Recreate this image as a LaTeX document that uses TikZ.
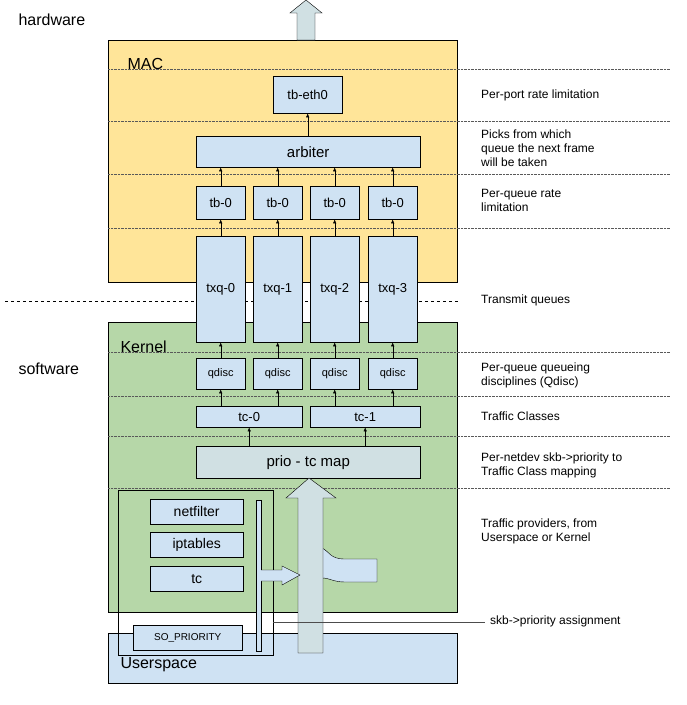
\documentclass[tikz,border=0pt]{standalone}
\usepackage{fontspec}
\setmainfont{Liberation Sans}
\usetikzlibrary{arrows.meta}
\definecolor{mac}{HTML}{FFE599}
\definecolor{kern}{HTML}{B6D7A8}
\definecolor{usr}{HTML}{CFE2F3}
\definecolor{big}{HTML}{D0E0E3}
\begin{document}
\begin{tikzpicture}[x=1pt,y=-1pt,
  bx/.style={draw,fill=usr,inner sep=0pt,anchor=north west},
  ar/.style={-{Latex[length=4pt,width=3.5pt]}},
  lab/.style={anchor=west,font=\fontsize{12}{14}\selectfont,align=left,inner sep=0pt},
  dot/.style={densely dotted,gray!70!black}]
\useasboundingbox (0,0) rectangle (687,705);
% regions
\draw[fill=mac] (108,40) rectangle (457,282);
\draw[fill=kern] (108,322) rectangle (457,612);
\draw[fill=usr] (108,633) rectangle (457,683);
\node[anchor=west,font=\fontsize{16}{18}\selectfont] (mac) at (124,64) {MAC};
\node[anchor=west,font=\fontsize{16}{18}\selectfont] (ker) at (117,347) {Kernel};
\node[anchor=west,font=\fontsize{16}{18}\selectfont] (usp) at (117,665) {Userspace};
\node[anchor=west,font=\fontsize{16}{18}\selectfont] (hw) at (15,20) {hardware};
\node[anchor=west,font=\fontsize{16}{18}\selectfont] (sw) at (15,369) {software};
\draw[dashed] (5,301) -- (460,301);
\foreach \y in {69,121,174,228,352,396,436,488} \draw[dot] (108,\y) -- (670,\y);
% top arrow
\draw[fill=big] (297,40) -- (297,13) -- (290,13) -- (306,0) -- (322,13) -- (315,13) -- (315,40) -- cycle;
% boxes
\node[bx,minimum width=69pt,minimum height=37pt,font=\fontsize{13}{15}\selectfont] (eth) at (273,76) {tb-eth0};
\node[bx,minimum width=224pt,minimum height=31pt,font=\fontsize{15}{17}\selectfont] (arb) at (196,136) {arbiter};
\foreach \i/\x in {0/196,1/253,2/310,3/368}{
  \node[bx,minimum width=49pt,minimum height=33pt,font=\fontsize{13}{15}\selectfont] (tb\i) at (\x,186) {tb-0};
  \node[bx,minimum width=49pt,minimum height=106pt,font=\fontsize{13}{15}\selectfont] (txq\i) at (\x,236) {txq-\i};
  \node[bx,minimum width=49pt,minimum height=31pt,font=\fontsize{11}{13}\selectfont] (qd\i) at (\x,358) {qdisc};
  \draw[ar] (txq\i) -- (tb\i);
  \draw[ar] (qd\i) -- (txq\i);
  \draw[ar] (tb\i.north) -- (tb\i.north |- arb.south);
}
\draw[ar] (arb.north -| eth) -- (eth.south);
\node[bx,minimum width=106pt,minimum height=21pt,font=\fontsize{13}{15}\selectfont] (tc0) at (196,406) {tc-0};
\node[bx,minimum width=110pt,minimum height=21pt,font=\fontsize{13}{15}\selectfont] (tc1) at (310,406) {tc-1};
\draw[ar] (tc0.north -| qd0) -- (qd0.south);
\draw[ar] (tc0.north -| qd1) -- (qd1.south);
\draw[ar] (tc1.north -| qd2) -- (qd2.south);
\draw[ar] (tc1.north -| qd3) -- (qd3.south);
\node[bx,minimum width=224pt,minimum height=32pt,font=\fontsize{15}{17}\selectfont,fill=big] (prio) at (196,446) {prio - tc map};
\draw[ar] (prio.north -| tc0) -- (tc0.south);
\draw[ar] (prio.north -| tc1) -- (tc1.south);
% providers
\draw (118,490) rectangle (273,655);
\node[bx,minimum width=93pt,minimum height=25pt,font=\fontsize{14}{16}\selectfont] (nf) at (150,499) {netfilter};
\node[bx,minimum width=93pt,minimum height=25pt,font=\fontsize{14}{16}\selectfont] (ipt) at (150,532) {iptables};
\node[bx,minimum width=93pt,minimum height=25pt,font=\fontsize{14}{16}\selectfont] (tcp) at (150,566) {tc};
\node[bx,minimum width=109pt,minimum height=25pt,font=\fontsize{10}{12}\selectfont] (so) at (133,625) {SO\_PRIORITY};
% curved side shape
\draw[fill=usr] (322,548) .. controls (330,552) and (330,559) .. (345,559) -- (377,559) -- (377,582) -- (345,582) .. controls (333,582) and (330,578) .. (322,578);
% big arrow
\draw[fill=big] (298,653) -- (298,498) -- (286,498) -- (309,478) -- (336,498) -- (323,498) -- (323,653) -- cycle;
% bar + arrow
\draw[fill=usr] (256,500) rectangle (261,651);
\draw[fill=usr] (261,570) -- (282,570) -- (282,566) -- (300,575) -- (282,585) -- (282,581) -- (261,581);
\coordinate (sk) at (485,622);
\draw[gray!60!black] (273,622) -- (sk);
% labels
\node[lab] (l1) at (481,95) {Per-port rate limitation};
\node[lab] (l2) at (481,148) {Picks from which\\queue the next frame\\will be taken};
\node[lab] (l3) at (481,200) {Per-queue rate\\limitation};
\node[lab] (l4) at (481,300) {Transmit queues};
\node[lab] (l5) at (481,375) {Per-queue queueing\\disciplines (Qdisc)};
\node[lab] (l6) at (481,416) {Traffic Classes};
\node[lab] (l7) at (481,465) {Per-netdev skb->priority to\\Traffic Class mapping};
\node[lab] (l8) at (481,531) {Traffic providers, from\\Userspace or Kernel};
\node[lab] (l9) at (490,621) {skb->priority assignment};
\end{tikzpicture}
\end{document}
